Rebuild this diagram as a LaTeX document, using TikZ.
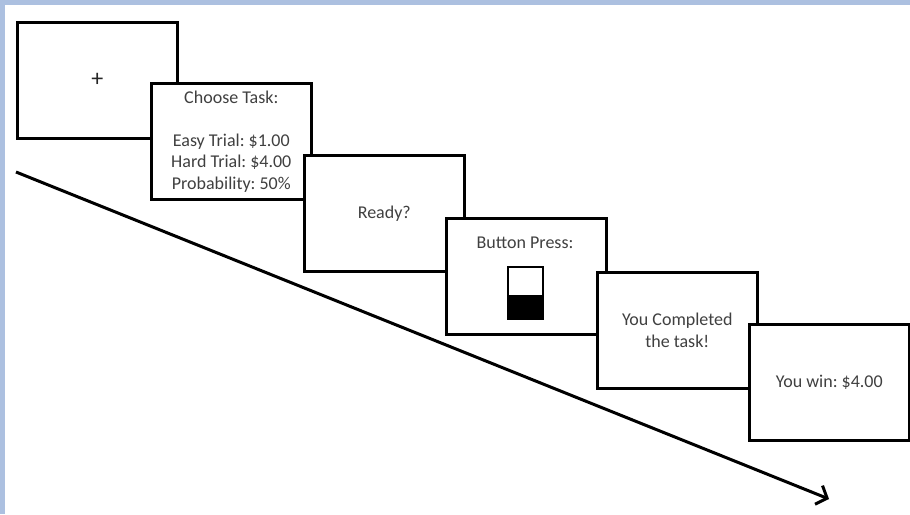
\documentclass[tikz,border=0pt]{standalone}
\usepackage{fontspec}
\setmainfont{Carlito}
\frenchspacing
\usetikzlibrary{arrows.meta}
\definecolor{frameblue}{RGB}{172,192,224}
\definecolor{screentext}{RGB}{64,64,64}
\begin{document}
\begin{tikzpicture}[x=1pt,y=-1pt,
  screen/.style={draw=black,line width=2.6pt,fill=white,
    minimum width=160pt,minimum height=116pt,anchor=north west,inner sep=0pt,
    text=screentext,font=\fontsize{18}{21.5}\selectfont,align=center},
  timeline/.style={line width=3pt,-{Straight Barb[length=9pt,width=20pt]}}
  ]
% page and frame band
\useasboundingbox (0,0) rectangle (910,514);
\fill[white] (0,0) rectangle (910,514);
\fill[frameblue] (0,0) rectangle (910,5);
\fill[frameblue] (0,0) rectangle (5,514);

% time axis
\coordinate (tstart) at (16,172);
\coordinate (tend) at (829,499);
\draw[timeline] (tstart) -- (tend);

% trial screens, each one overlapping the previous
\node[screen,font=\fontsize{24}{26}\selectfont,text=black!85] (fix) at (16,21) {+};
\node[screen] (choose) at (150,82) {Choose Task:\\[21.5pt]Easy Trial: \$1.00\\Hard Trial: \$4.00\\Probability: 50\%};
\node[screen] (ready) at (303,154) {Ready?};
\node[screen] (press) at (445,217) {};
\node[text=screentext,font=\fontsize{18}{21.5}\selectfont,inner sep=0pt] (presslabel) at (525,243) {Button Press:};
\node[screen] (done) at (596,271) {You Completed\\the task!};
\node[screen] (win) at (748,323) {You win: \$4.00};

% button-press progress gauge
\fill[black] (507,296) rectangle (542,318);
\node[draw=black,line width=2pt,minimum width=35pt,minimum height=52pt,
  anchor=north west,inner sep=0pt] (gauge) at (507,266) {};
\draw[black,line width=1.5pt] (gauge.west |- 0,296) -- (gauge.east |- 0,296);
\end{tikzpicture}
\end{document}
